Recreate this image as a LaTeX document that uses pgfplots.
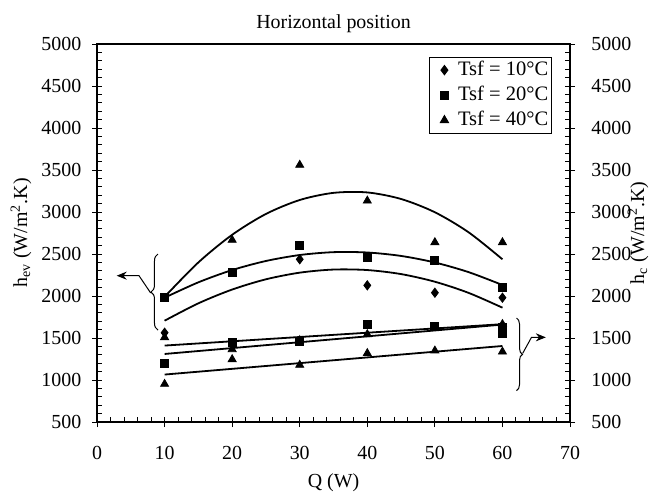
\documentclass[border=0pt]{standalone}
\usepackage{fontspec}
\setmainfont{Liberation Serif}
\usepackage{pgfplots}
\pgfplotsset{compat=1.18}
\usetikzlibrary{decorations.pathreplacing,arrows.meta}

\begin{document}
\begin{tikzpicture}
\pgfplotsset{
  common/.style={
    scale only axis, width=236.5bp, height=189bp,
    at={(0,0)}, anchor=south west,
    xmin=0, xmax=70, ymin=500, ymax=5000,
    xtick={0,10,...,70}, ytick={500,1000,...,5000},
    xtick pos=bottom, ytick pos=both,
    major tick length=2.5bp, minor tick length=2.5bp,
    every tick/.style={black, line width=0.5bp},
    /pgf/number format/assume math mode=true,
    /pgf/number format/1000 sep={},
    tick label style={font=\fontsize{10}{12}\selectfont},
    label style={font=\fontsize{10}{12}\selectfont},
    clip=false,
  },
  fitline/.style={black, line width=0.9bp, smooth, no marks, forget plot},
}
\begin{axis}[common,
  axis line style={black, line width=0.8bp},
  tick align=inside,
  minor x tick num=4, minor y tick num=4,
  xticklabel style={anchor=base, yshift=-18.5bp},
  yticklabel style={anchor=east, inner sep=0pt, xshift=-7.7bp},
  title={Horizontal position},
  every axis title/.style={at={(axis description cs:0.5,1)}, anchor=base, inner sep=0pt, yshift=8bp, font=\fontsize{10}{12}\selectfont},
  xlabel={Q (W)},
  every axis x label/.style={at={(axis description cs:0.5,0)}, anchor=base, inner sep=0pt, yshift=-32.75bp},
  ylabel={h\textsubscript{ev} (W/m\textsuperscript{2}.K)},
  every axis y label/.style={at={(axis description cs:0,0.5)}, xshift=-35bp, rotate=90, anchor=base, inner sep=0pt},
  legend style={at={(axis description cs:0.9613,0.9664)}, anchor=north east,
    draw=black, line width=0.5bp, fill=white, font=\fontsize{10.3}{12}\selectfont,
    inner xsep=1bp, inner ysep=0.2bp, row sep=0bp,
    nodes={inner xsep=0.5bp, inner ysep=1.9bp}},
  legend cell align=left,
  legend image code/.code={\path[draw=none, fill=none] (0bp,-0.1bp) rectangle (12.6bp,0.1bp); \draw[#1] plot coordinates {(6.3bp,0bp)};},
]
% h_ev markers
\addplot[only marks, mark=diamond*, mark size=2.3bp, black, mark options={fill=black}] coordinates {
(10,1563) (30,2437) (40,2127) (50,2039) (60,1980)};
\addlegendentry{Tsf = 10°C}
\addplot[only marks, mark=square*, mark size=2bp, black, mark options={fill=black}] coordinates {
(10,1980) (20,2278) (30,2599) (40,2456) (50,2429) (60,2103)};
\addlegendentry{Tsf = 20°C}
\addplot[only marks, mark=triangle*, mark size=2.3bp, black, mark options={fill=black}] coordinates {
(20,2667) (30,3560) (40,3134) (50,2639) (60,2639)};
\addlegendentry{Tsf = 40°C}
% h_c markers
\addplot[only marks, mark=triangle*, mark size=2.3bp, black, mark options={fill=black}, forget plot] coordinates {
(10,1508) (20,1365) (30,1472) (40,1544) (60,1665)};
\addplot[only marks, mark=square*, mark size=2bp, black, mark options={fill=black}, forget plot] coordinates {
(10,1199) (20,1449) (30,1456) (40,1663) (50,1635) (60,1630) (60,1560)};
\addplot[only marks, mark=triangle*, mark size=2.3bp, black, mark options={fill=black}, forget plot] coordinates {
(10,952) (20,1246) (30,1179) (40,1318) (50,1349) (60,1337)};
% fitted curves (h_ev)
\addplot[fitline] coordinates {(10,1990) (15,2400) (20,2729) (25,2977) (30,3143) (35,3228) (40,3233) (45,3155) (50,2997) (55,2758) (60,2437)};
\addplot[fitline] coordinates {(10,1980) (15,2163) (20,2309) (25,2417) (30,2488) (35,2522) (40,2518) (45,2477) (50,2399) (55,2284) (60,2131)};
\addplot[fitline] coordinates {(10,1706) (15,1913) (20,2077) (25,2199) (30,2278) (35,2315) (40,2309) (45,2261) (50,2170) (55,2037) (60,1861)};
% fitted lines (h_c)
\addplot[fitline] coordinates {(10,1410) (60,1665)};
\addplot[fitline] coordinates {(10,1310) (60,1660)};
\addplot[fitline] coordinates {(10,1065) (60,1405)};
% braces and arrows
\draw[line width=0.5bp, decorate, decoration={brace, amplitude=3.5bp}] (axis cs:9.02,1595) -- (axis cs:9.02,2500);
\draw[line width=0.5bp, -{Stealth[length=5bp, width=4bp]}] (axis cs:7.94,2036) -- (axis cs:6.21,2242) -- (axis cs:2.91,2242);
\draw[line width=0.5bp, decorate, decoration={brace, amplitude=3bp}] (axis cs:62.08,1738) -- (axis cs:62.08,873);
\draw[line width=0.5bp, -{Stealth[length=5bp, width=4bp]}] (axis cs:63.0,1318) -- (axis cs:64.3,1508) -- (axis cs:66.42,1508);
% page frame
\path (axis cs:-14.36,-333) rectangle (axis cs:81.69,5524);
\end{axis}
\begin{axis}[common,
  axis line style={draw=none},
  tick align=outside,
  minor x tick num=0, minor y tick num=0,
  xticklabels={},
  yticklabel pos=right,
  yticklabel style={anchor=west, inner sep=0pt, xshift=8bp},
  ylabel={h\textsubscript{c} (W/m\textsuperscript{2}.K)},
  every axis y label/.style={at={(axis description cs:1,0.5)}, xshift=37bp, rotate=90, anchor=base, inner sep=0pt},
]
\addplot[draw=none, forget plot] coordinates {(0,500)};
\end{axis}
\end{tikzpicture}
\end{document}
